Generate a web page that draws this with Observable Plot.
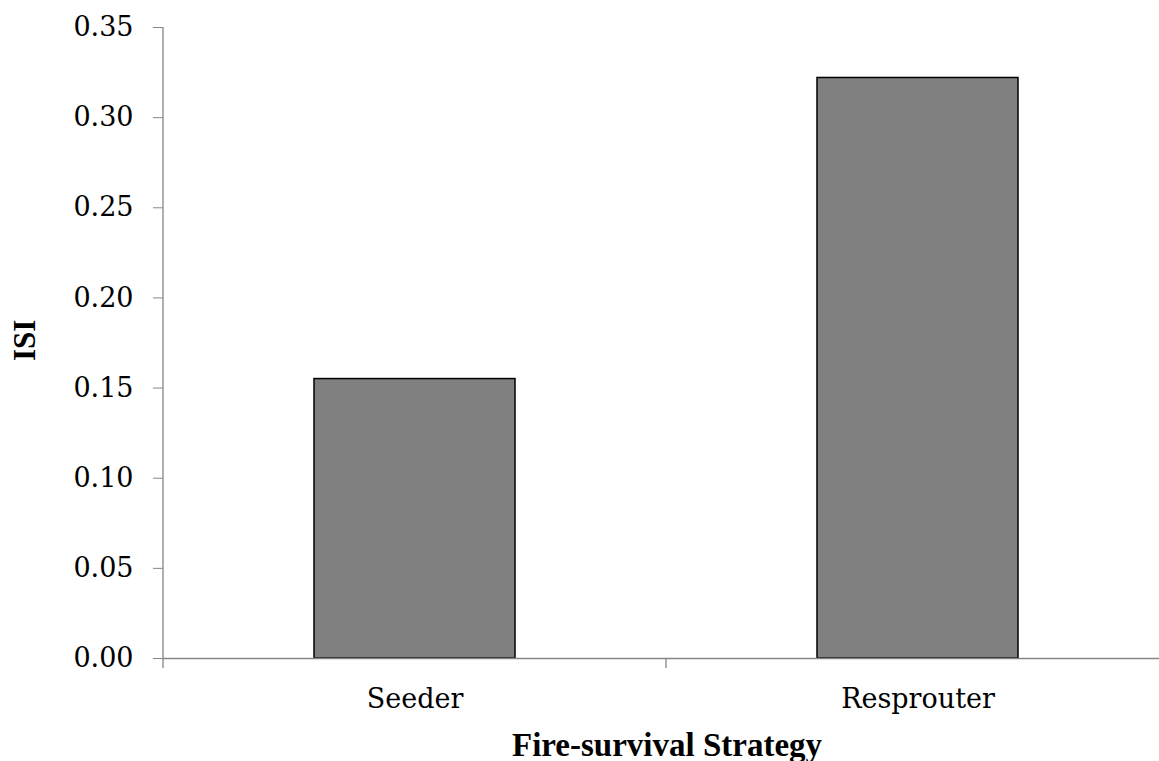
<!DOCTYPE html>
<html><head><meta charset="utf-8">
<script src="https://cdn.jsdelivr.net/npm/d3@7"></script>
<script src="https://cdn.jsdelivr.net/npm/@observablehq/plot@0.6"></script>
<style>body{margin:0;overflow:hidden;background:#fff} svg{overflow:visible}</style>
</head><body><div id="chart"></div>
<script>
const categories = ["Seeder", "Resprouter"];
const isiValues = [0.155, 0.322];
const yTicks = [0, 0.05, 0.10, 0.15, 0.20, 0.25, 0.30, 0.35];
const xTitle = "Fire-survival Strategy";
const yTitle = "ISI";

const data = categories.map((c, i) => ({strategy: c, isi: isiValues[i]}));
const axisColor = "#868686";
const titleFont = "Liberation Serif";

const chart = Plot.plot({
  width: 1159, height: 761,
  marginLeft: 163, marginRight: -11, marginTop: 27, marginBottom: 103,
  style: {fontFamily: "DejaVu Serif", fontSize: "27px", color: "#000", background: "#fff", overflow: "visible"},
  x: {domain: categories, paddingInner: 0.6, paddingOuter: 0.3},
  y: {domain: [0, 0.35]},
  marks: [
    Plot.barY(data, {x: "strategy", y: "isi", fill: "#808080", stroke: "#000", strokeWidth: 1.5}),
    Plot.ruleY([0], {stroke: axisColor, strokeWidth: 1.3}),
    Plot.axisY({ticks: yTicks, tickFormat: d3.format(".2f"), tickSize: 10, tickPadding: 20, stroke: axisColor, label: null}),
    Plot.axisX({tickSize: 0, tickPadding: 30, label: null}),
    Plot.text([yTitle], {frameAnchor: "left", dx: -138, dy: 18, rotate: -90, fontWeight: "bold", fontFamily: titleFont, fontSize: 31}),
    Plot.text([xTitle], {frameAnchor: "bottom", dy: 97, fontWeight: "bold", fontFamily: titleFont, fontSize: 33})
  ]
});
document.getElementById("chart").appendChild(chart);

// vertical axis line and category-boundary ticks, positioned from the library's scales
const xs = chart.scale("x"), ys = chart.scale("y");
const svg = d3.select(chart);
const y0 = ys.apply(0), yTop = ys.apply(yTicks[yTicks.length - 1]);
const bounds = [];
categories.forEach((c, i) => {
  const center = xs.apply(c) + xs.bandwidth / 2;
  if (i === 0) bounds.push(center - xs.step / 2);
  bounds.push(center + xs.step / 2);
});
const g = svg.append("g").attr("stroke", axisColor).attr("stroke-width", 1.3);
g.append("line").attr("x1", bounds[0]).attr("x2", bounds[0]).attr("y1", yTop).attr("y2", y0);
bounds.forEach(b => g.append("line").attr("x1", b).attr("x2", b).attr("y1", y0).attr("y2", y0 + 10));
</script></body></html>
